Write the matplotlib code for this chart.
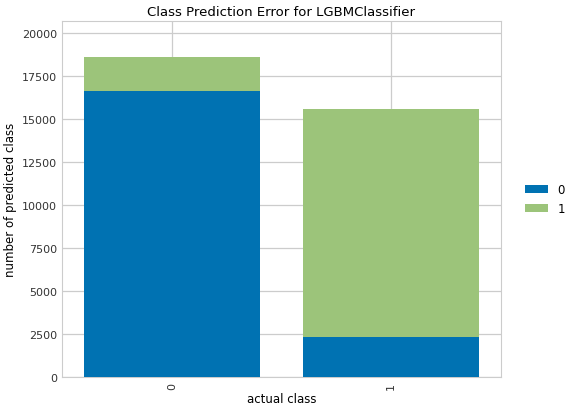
import numpy as np
import matplotlib.pyplot as plt

classes = ["0", "1"]
pred_0 = [16650, 2300]
pred_1 = [1950, 13300]
series_labels = ["0", "1"]
colors = ["#0072B2", "#9CC47A"]

fig = plt.figure(figsize=(5.75, 4.14), dpi=100)
ax = fig.add_axes([0.108, 0.087, 0.763, 0.86])
x = np.arange(len(classes))
ax.bar(x, pred_0, 0.8, color=colors[0], label=series_labels[0], zorder=3)
ax.bar(x, pred_1, 0.8, bottom=pred_0, color=colors[1], label=series_labels[1], zorder=3)

ax.set_xlim(-0.5, 1.5)
ax.set_ylim(0, 20700)
ax.set_yticks(np.arange(0, 20001, 2500))
ax.set_xticks(x)
ax.set_xticklabels(classes, rotation=90)
ax.grid(True, color="#cccccc", linewidth=0.9, zorder=0)
for s in ax.spines.values():
    s.set_color("#cccccc")
ax.tick_params(length=0, labelsize=8, colors="#333333")
ax.set_xlabel("actual class", fontsize=8.5, labelpad=2)
ax.set_ylabel("number of predicted class", fontsize=8.5)
ax.set_title("Class Prediction Error for LGBMClassifier", fontsize=9.5, pad=4)
ax.legend(loc="center left", bbox_to_anchor=(1.03, 0.5), frameon=False, fontsize=8.5)
fig.savefig("out.png", dpi=100)
